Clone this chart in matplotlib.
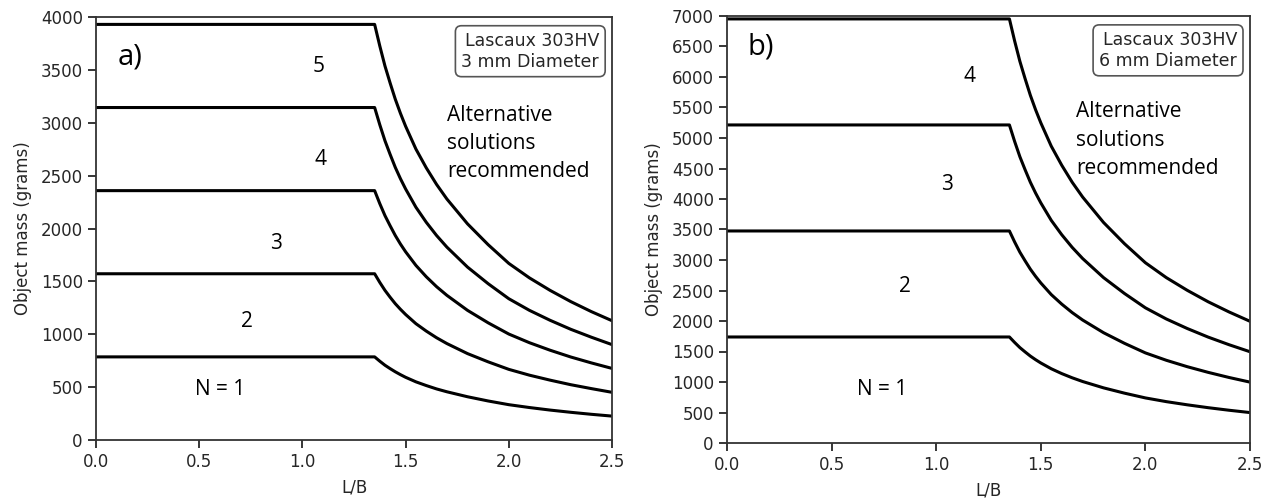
import matplotlib
matplotlib.use("Agg")
import matplotlib.pyplot as plt

# L/B values where the curves were read (plateau from 0 up to 1.35)
lb = [0.0, 1.35, 1.375, 1.40, 1.425, 1.45, 1.475, 1.50, 1.55, 1.60, 1.65, 1.70,
      1.80, 1.90, 2.00, 2.10, 2.20, 2.30, 2.40, 2.50]

# panel a) 3 mm diameter, N = 1..5
mass_3mm_n1 = [786, 786, 745, 707, 675, 645, 618, 593, 550, 515, 483, 456, 409, 369, 334, 307, 283, 262, 243, 226]
mass_3mm_n2 = [1572, 1572, 1490, 1415, 1350, 1289, 1236, 1187, 1100, 1030, 967, 912, 817, 739, 668, 613, 566, 523, 486, 451]
mass_3mm_n3 = [2358, 2358, 2235, 2122, 2026, 1934, 1853, 1780, 1651, 1544, 1450, 1368, 1226, 1108, 1002, 920, 849, 785, 729, 677]
mass_3mm_n4 = [3144, 3144, 2981, 2830, 2701, 2578, 2471, 2374, 2201, 2059, 1934, 1824, 1635, 1478, 1336, 1226, 1132, 1047, 972, 902]
mass_3mm_n5 = [3930, 3930, 3726, 3537, 3376, 3223, 3089, 2967, 2751, 2574, 2417, 2279, 2044, 1847, 1670, 1533, 1415, 1309, 1214, 1128]

# panel b) 6 mm diameter, N = 1..4
mass_6mm_n1 = [1738, 1738, 1648, 1564, 1493, 1425, 1366, 1312, 1217, 1138, 1069, 1008, 904, 817, 739, 678, 626, 579, 537, 499]
mass_6mm_n2 = [3476, 3476, 3295, 3128, 2986, 2850, 2732, 2624, 2433, 2277, 2138, 2016, 1808, 1634, 1477, 1356, 1251, 1158, 1074, 998]
mass_6mm_n3 = [5214, 5214, 4943, 4693, 4479, 4275, 4098, 3937, 3650, 3415, 3207, 3024, 2711, 2451, 2216, 2033, 1877, 1736, 1611, 1496]
mass_6mm_n4 = [6952, 6952, 6590, 6257, 5972, 5701, 5464, 5249, 4866, 4554, 4275, 4032, 3615, 3267, 2955, 2711, 2503, 2315, 2148, 1995]

labels_3mm = ["N = 1", "2", "3", "4", "5"]
label_pos_3mm = [(0.60, 480), (0.73, 1125), (0.87, 1860), (1.09, 2655), (1.08, 3530)]
labels_6mm = ["N = 1", "2", "3", "4"]
label_pos_6mm = [(0.74, 870), (0.85, 2560), (1.05, 4230), (1.16, 6000)]

TICK_COLOR = "#262626"
ANNOT_FONT = ["Open Sans", "DejaVu Sans"]

fig = plt.figure(figsize=(12.71, 5.01), dpi=100)
ax_a = fig.add_axes([96 / 1271, 61 / 501, 516 / 1271, 423 / 501])
ax_b = fig.add_axes([727 / 1271, 58 / 501, 523 / 1271, 427 / 501])


def style_axis(ax, ymax):
    ax.set_xlim(0, 2.5)
    ax.set_ylim(0, ymax)
    ax.set_xticks([0.0, 0.5, 1.0, 1.5, 2.0, 2.5])
    ax.set_yticks(range(0, ymax + 1, 500))
    ax.tick_params(labelsize=12, length=6, width=1.3, colors=TICK_COLOR)
    for sp in ax.spines.values():
        sp.set_linewidth(1.3)
        sp.set_color("#333333")
    ax.set_xlabel("L/B", fontsize=12, color=TICK_COLOR, labelpad=5)
    ax.set_ylabel("Object mass (grams)", fontsize=12, color=TICK_COLOR, labelpad=6)


for series in [mass_3mm_n1, mass_3mm_n2, mass_3mm_n3, mass_3mm_n4, mass_3mm_n5]:
    ax_a.plot(lb, series, color="black", lw=2.2)
for series in [mass_6mm_n1, mass_6mm_n2, mass_6mm_n3, mass_6mm_n4]:
    ax_b.plot(lb, series, color="black", lw=2.2)

style_axis(ax_a, 4000)
style_axis(ax_b, 7000)

for txt, (x, y) in zip(labels_3mm, label_pos_3mm):
    ax_a.text(x, y, txt, ha="center", va="center", fontsize=15, family=ANNOT_FONT)
for txt, (x, y) in zip(labels_6mm, label_pos_6mm):
    ax_b.text(x, y, txt, ha="center", va="center", fontsize=15, family=ANNOT_FONT)

ax_a.text(0.105, 3620, "a)", ha="left", va="center", fontsize=21, family=ANNOT_FONT)
ax_b.text(0.10, 6490, "b)", ha="left", va="center", fontsize=21, family=ANNOT_FONT)

alt = "Alternative\nsolutions\nrecommended"
ax_a.text(1.70, 2805, alt, ha="left", va="center", fontsize=15, family=ANNOT_FONT, linespacing=1.45)
ax_b.text(1.668, 4966, alt, ha="left", va="center", fontsize=15, family=ANNOT_FONT, linespacing=1.45)

box = dict(boxstyle="round,pad=0.35", facecolor="white", edgecolor="#555555", lw=1.2)
ax_a.text(0.975, 0.965, "Lascaux 303HV\n3 mm Diameter", transform=ax_a.transAxes,
          ha="right", va="top", fontsize=12.5, color=TICK_COLOR, bbox=box, multialignment="right")
ax_b.text(0.975, 0.965, "Lascaux 303HV\n6 mm Diameter", transform=ax_b.transAxes,
          ha="right", va="top", fontsize=12.5, color=TICK_COLOR, bbox=box, multialignment="right")

fig.savefig("out.png", dpi=100)
